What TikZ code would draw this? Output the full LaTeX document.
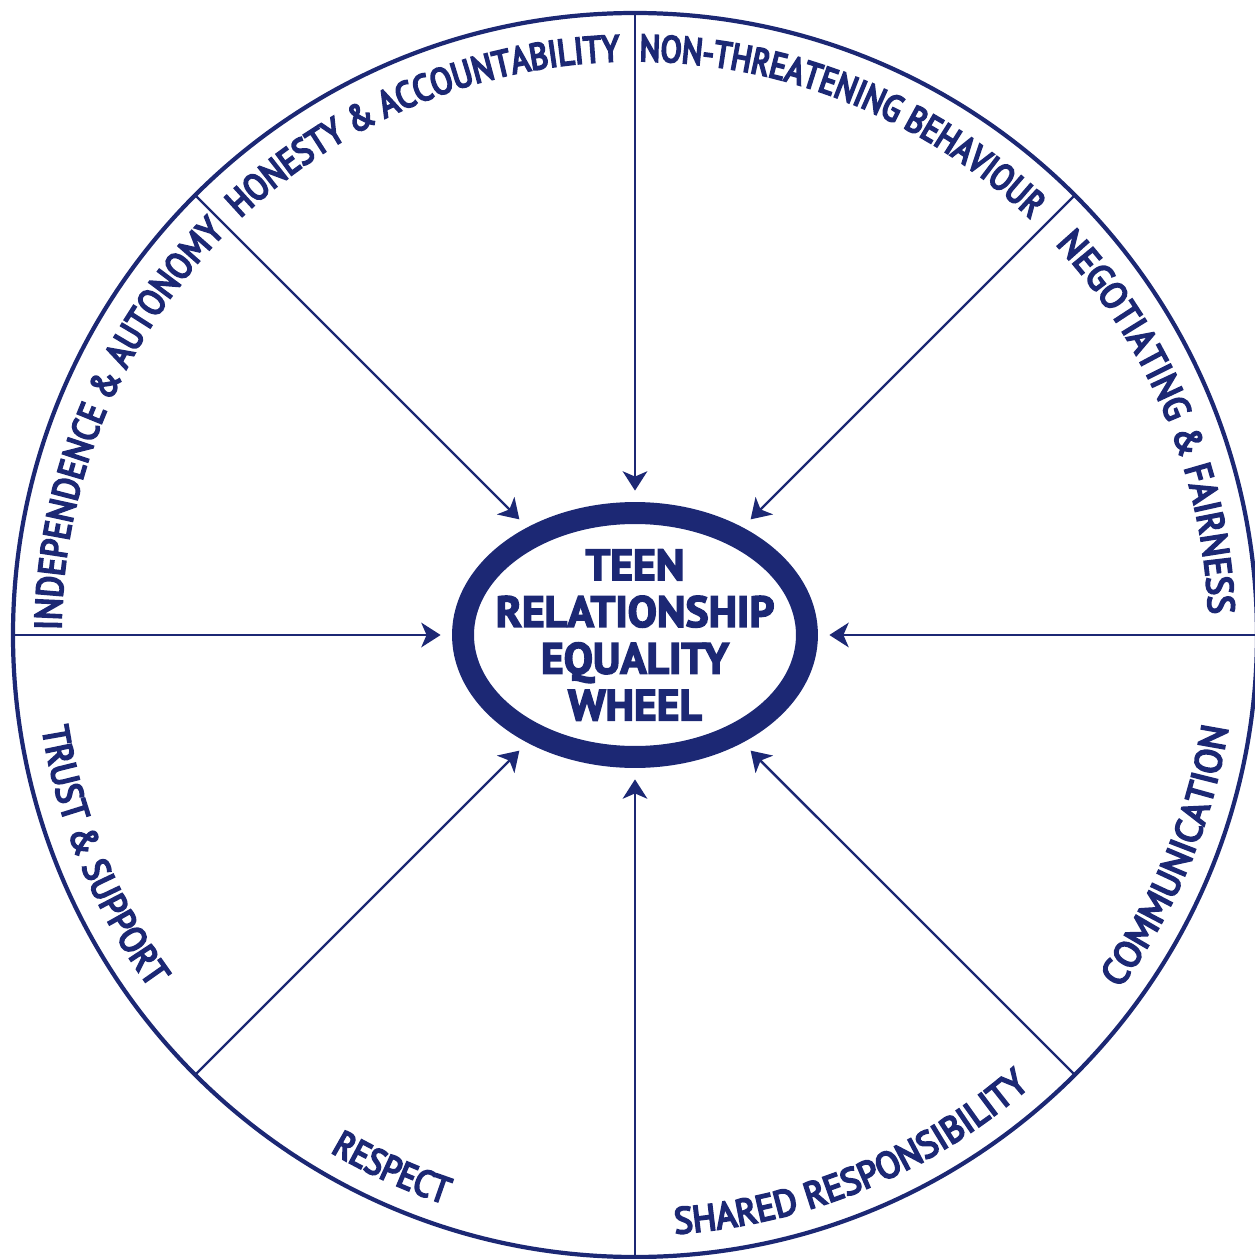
\documentclass[tikz,border=0pt]{standalone}
\usepackage{fontspec}
\setmainfont{PT Sans}
\newfontfamily\labelfont[FakeBold=5.5]{PT Sans}
\newfontfamily\hubfont[FakeBold=3.5]{PT Sans}
\usetikzlibrary{arrows.meta,positioning,shapes.geometric,decorations.text}
\definecolor{wheelblue}{RGB}{28,40,116}

\begin{document}
\begin{tikzpicture}[x=0.02cm,y=0.02cm,
      rim_line/.style={
         draw=wheelblue,
         line width=2.4pt},
      hub_ring/.style={
         ellipse,
         draw=wheelblue,
         line width=12.5pt,
         minimum width=6.88cm,
         minimum height=4.88cm,
         inner sep=0pt},
      hub_text/.style={
         align=center,
         text=wheelblue,
         inner sep=0pt,
         font=\hubfont\bfseries\fontsize{24.8}{26.6}\selectfont},
      arrow_spoke/.style={
         -{Stealth[length=11pt,width=14pt,inset=3pt]},
         draw=wheelblue,
         line width=1.4pt,
         shorten >=6.5pt}
]
      \useasboundingbox (-635,-624) rectangle (620,635);

      %wheel
      \draw[rim_line] (0,0) circle[radius=622];

      %hub
      \node[hub_ring] (hub) at (0,0) {};
      \node[hub_text] (title) at (hub) {TEEN\\RELATIONSHIP\\EQUALITY\\WHEEL};

      %spokes
      \foreach \a in {0,45,...,315} {
        \coordinate (rim\a) at (\a:622);
        \draw[arrow_spoke] (rim\a) -- (hub);
      }

    \foreach \s/\e/\r/\st/\txt in {% start angle/end angle/radius/stretch/text
      150/75/574/0.86/HONESTY {\&} ACCOUNTABILITY,
      106/30/574/0.83/NON-THREATENING BEHAVIOUR,
      60/-15/574/0.95/NEGOTIATING {\&} FAIRNESS,
      195/120/574/0.89/INDEPENDENCE {\&} AUTONOMY,
      -60/15/600/0.99/COMMUNICATION,
      -106/-29/600/0.96/SHARED RESPONSIBILITY,
      -152/-77/600/0.88/RESPECT,
      -195/-120/600/0.92/TRUST {\&} SUPPORT} {
      \labelfont\addfontfeature{FakeStretch=\st}\fontsize{21}{21}\selectfont
      \path[decorate,decoration={text along path,text align=center,
        text color=wheelblue,text/.expanded=\txt}]
        (\s:\r) arc[start angle=\s,end angle=\e,radius=\r];
    }

\end{tikzpicture}
\end{document}
